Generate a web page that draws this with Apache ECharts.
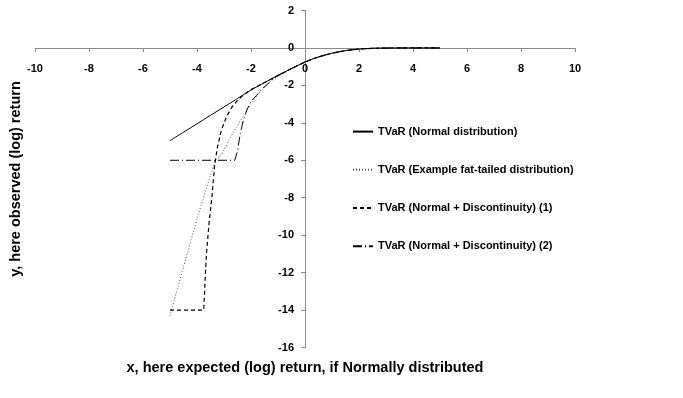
<!DOCTYPE html>
<html>
<head>
<meta charset="utf-8">
<script src="https://cdn.jsdelivr.net/npm/echarts@6/dist/echarts.min.js"></script>
<style>
html,body{margin:0;padding:0;background:#fff;}
#chart{width:683px;height:398px;}
</style>
</head>
<body>
<div id="chart"></div>
<script>
// ---- data ----
var seriesNames = [
  'TVaR (Normal distribution)',
  'TVaR (Example fat-tailed distribution)',
  'TVaR (Normal + Discontinuity) (1)',
  'TVaR (Normal + Discontinuity) (2)'
];
var xTicks = [-10, -8, -6, -4, -2, 0, 2, 4, 6, 8, 10];
var yTicks = [2, 0, -2, -4, -6, -8, -10, -12, -14, -16];

var normalX = [-5, -4.5, -4, -3.5, -3, -2.5, -2, -1.5, -1, -0.5, 0, 0.5, 1, 1.5, 2, 2.5, 3, 3.5, 4, 4.5, 5];
var normalY = [-4.95, -4.5, -4.05, -3.6, -3.15, -2.7, -2.25, -1.85, -1.47, -1.1, -0.75, -0.48, -0.28, -0.14, -0.06, -0.02, -0.005, -0.001, 0, 0, 0];

var fatX = [-5, -4.5, -4, -3.5, -3.3, -3.15, -3, -2.75, -2.5, -2.25, -2, -1.75, -1.5, -1.25, -1, -0.5, 0, 0.5, 1, 1.5, 2, 2.5, 3, 3.5, 4, 4.5, 5];
var fatY = [-14.3, -11.7, -9.15, -6.8, -6.0, -5.8, -5.45, -4.75, -4.15, -3.55, -3.0, -2.5, -2.1, -1.75, -1.52, -1.12, -0.76, -0.48, -0.28, -0.14, -0.06, -0.02, -0.005, -0.001, 0, 0, 0];

var disc1X = [-5, -3.75, -3.7, -3.65, -3.55, -3.45, -3.35, -3.25, -3.1, -2.9, -2.7, -2.5, -2.25, -2, -1.5, -1, -0.5, 0, 0.5, 1, 1.5, 2, 2.5, 3, 3.5, 4, 4.5, 5];
var disc1Y = [-14, -14, -12.4, -11.0, -9.3, -8.0, -6.3, -5.35, -4.4, -3.65, -3.15, -2.8, -2.48, -2.22, -1.85, -1.47, -1.1, -0.75, -0.48, -0.28, -0.14, -0.06, -0.02, -0.005, -0.001, 0, 0, 0];

var disc2X = [-5, -2.6, -2.5, -2.4, -2.3, -2.15, -2, -1.8, -1.6, -1.4, -1.2, -1, -0.5, 0, 0.5, 1, 1.5, 2, 2.5, 3, 3.5, 4, 4.5, 5];
var disc2Y = [-6, -6, -5.5, -4.6, -3.95, -3.3, -2.85, -2.55, -2.2, -1.95, -1.68, -1.47, -1.1, -0.75, -0.48, -0.28, -0.14, -0.06, -0.02, -0.005, -0.001, 0, 0, 0];

var xTitle = 'x, here expected (log) return, if Normally distributed';
var yTitle = 'y, here observed (log) return';

function pairs(xs, ys) {
  return xs.map(function (x, i) { return [x, ys[i]]; });
}

// ---- layout ----
var W = 683, H = 398;
var G = {left: 35, right: 108, top: 10.5, bottom: 50.5};
var xMin = xTicks[0], xMax = xTicks[xTicks.length - 1];
var yMin = yTicks[yTicks.length - 1], yMax = yTicks[0];
var gw = W - G.left - G.right, gh = H - G.top - G.bottom;
// distance from grid edges to the zero lines (axes cross at 0,0)
var xAxisOffset = -(gh * (0 - yMin) / (yMax - yMin));   // move bottom axis up to y=0
var yAxisOffset = -(gw * (0 - xMin) / (xMax - xMin));   // move left axis right to x=0
var zeroX = G.left + gw * (0 - xMin) / (xMax - xMin);

var chart = echarts.init(document.getElementById('chart'), null, {renderer: 'canvas'});
var FONT = '"Liberation Sans", Arial, sans-serif';
var axisColor = '#8a8a8a';

var option = {
  animation: false,
  backgroundColor: '#ffffff',
  grid: {left: G.left, right: G.right, top: G.top, bottom: G.bottom, containLabel: false},
  legend: {
    orient: 'vertical',
    left: 352,
    top: 126,
    padding: 0,
    itemGap: 27,
    itemWidth: 20,
    itemHeight: 14,
    itemStyle: {opacity: 0},
    textStyle: {color: '#000', fontFamily: FONT, fontWeight: 'bold', fontSize: 11},
    data: seriesNames
  },
  xAxis: {
    type: 'value',
    position: 'bottom',
    offset: xAxisOffset,
    min: xMin,
    max: xMax,
    interval: 2,
    axisLine: {onZero: false, lineStyle: {color: axisColor, width: 1}},
    axisTick: {show: true, length: 4, lineStyle: {color: axisColor}},
    axisLabel: {color: '#000', fontFamily: FONT, fontWeight: 'bold', fontSize: 11, margin: 16},
    splitLine: {show: false}
  },
  yAxis: {
    type: 'value',
    position: 'left',
    offset: yAxisOffset,
    min: yMin,
    max: yMax,
    interval: 2,
    axisLine: {show: true, onZero: false, lineStyle: {color: axisColor, width: 1}},
    axisTick: {show: true, length: 4, lineStyle: {color: axisColor}},
    axisLabel: {color: '#000', fontFamily: FONT, fontWeight: 'bold', fontSize: 11, margin: 11},
    splitLine: {show: false}
  },
  graphic: [
    {type: 'text', x: zeroX, y: 368, style: {text: xTitle, fill: '#000', font: 'bold 14.5px ' + FONT, textAlign: 'center', textVerticalAlign: 'middle'}},
    {type: 'text', rotation: Math.PI / 2, x: 16, y: 179, style: {text: yTitle, fill: '#000', font: 'bold 14.5px ' + FONT, textAlign: 'center', textVerticalAlign: 'middle'}}
  ],
  series: [
    {name: seriesNames[0], type: 'line', data: pairs(normalX, normalY), symbol: 'none', smooth: 0.3,
     lineStyle: {color: '#000', width: 1, type: 'solid'}, itemStyle: {color: '#000'}},
    {name: seriesNames[1], type: 'line', data: pairs(fatX, fatY), symbol: 'none', smooth: 0.2,
     lineStyle: {color: '#555', width: 1, type: [1, 2]}, itemStyle: {color: '#555'}},
    {name: seriesNames[2], type: 'line', data: pairs(disc1X, disc1Y), symbol: 'none',
     lineStyle: {color: '#000', width: 1.2, type: [4, 3]}, itemStyle: {color: '#000'}},
    {name: seriesNames[3], type: 'line', data: pairs(disc2X, disc2Y), symbol: 'none',
     lineStyle: {color: '#000', width: 1, type: [9, 3, 1, 3]}, itemStyle: {color: '#000'}}
  ]
};
chart.setOption(option);
</script>
</body>
</html>
